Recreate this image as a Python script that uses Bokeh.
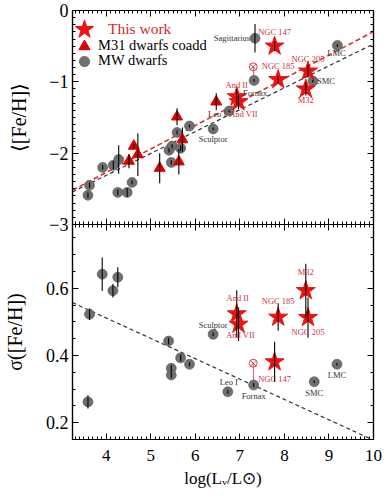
from bokeh.plotting import figure
from bokeh.models import (Range1d, LinearAxis, SingleIntervalTicker, Legend, LegendItem,
                          LabelSet, ColumnDataSource, CustomLabelingPolicy)
from bokeh.layouts import column
from bokeh.embed import file_html
from bokeh.resources import INLINE

FONT = "Liberation Serif"
STAR_RED = "#ee1111"
TXT_RED = "#d2303c"
GREY = "#6f6f6f"

# ---------------- data ----------------
x_limits = (3.243, 10.0)
feh_limits = (-3.0, 0.0)
sigma_limits = (0.15, 0.79)

# Milky Way dwarfs, <[Fe/H]> panel
mw_names = ["", "", "", "", "", "", "", "", "", "", "", "", "", "",
            "Sculptor", "Leo I", "Fornax", "Sagittarius", "SMC", "LMC"]
mw_logL = [3.59, 3.625, 3.92, 4.16, 4.28, 4.26, 4.47, 4.58, 5.41, 5.48,
           5.46, 5.67, 5.59, 5.87, 6.40, 6.76, 7.32, 7.34, 8.64, 9.19]
mw_feh = [-2.59, -2.45, -2.20, -2.17, -2.09, -2.55, -2.55, -2.41, -1.96, -1.90,
          -2.13, -1.93, -1.71, -1.62, -1.66, -1.41, -0.98, -0.39, -0.99, -0.49]
mw_feh_err = [0.04, 0.04, 0.03, 0.06, 0.20, 0.04, 0.06, 0.03, 0.03, 0.03,
              0.03, 0.04, 0.03, 0.02, 0.02, 0.02, 0.02, 0.20, 0.02, 0.02]

# Milky Way dwarfs, sigma panel
mw_sig_names = ["", "", "", "", "", "", "", "", "", "",
                "Sculptor", "Leo I", "Fornax", "SMC", "LMC"]
mw_sig_logL = [3.59, 3.625, 3.91, 4.15, 4.26, 5.40, 5.46, 5.46, 5.67, 5.87,
               6.40, 6.73, 7.31, 8.67, 9.18]
mw_sigma = [0.262, 0.523, 0.642, 0.593, 0.633, 0.443, 0.362, 0.342, 0.393, 0.374,
            0.463, 0.292, 0.312, 0.322, 0.374]
mw_sigma_err = [0.02, 0.017, 0.05, 0.02, 0.03, 0.01, 0.01, 0.01, 0.01, 0.006,
                0.006, 0.006, 0.006, 0.004, 0.004]

# M31 dwarfs, this work
m31_names = ["And II", "And VII", "NGC 147", "NGC 185", "NGC 205", "M32"]
m31_logL = [6.93, 6.97, 7.78, 7.86, 8.53, 8.48]
m31_feh = [-1.21, -1.28, -0.50, -0.97, -0.85, -1.10]
m31_feh_err = [0.11, 0.10, 0.07, 0.05, 0.09, 0.09]
m31_sigma = [0.524, 0.493, 0.381, 0.514, 0.513, 0.593]
m31_sigma_err = [0.07, 0.05, 0.06, 0.04, 0.06, 0.08]

# M31 dwarfs coadd
coadd_logL = [4.51, 4.62, 4.71, 5.20, 5.59, 5.63, 5.71, 6.47]
coadd_feh = [-2.11, -1.90, -2.02, -2.21, -1.49, -2.12, -1.81, -1.28]
coadd_feh_err = [0.10, 0.03, 0.30, 0.21, 0.12, 0.18, 0.17, 0.12]

# alternative measurement (open circle) linked to Fornax
alt_logL = [7.30]
alt_feh = [-0.79]
alt_sigma = [0.377]

# linear fits: [slope, intercept]
fit_coadd = [0.329, -3.586]
fit_mw = [0.307, -3.539]
fit_sigma = [-0.0606, 0.754]

feh_tick_values = [0, -1, -2, -3]
feh_tick_labels = ["0", "\u22121", "\u22122", "\u22123"]

# label offsets (pixels, +y up)
top_offsets = {"Sagittarius": (-23, 0), "NGC 147": (0, 14), "NGC 185": (0, 14),
               "NGC 205": (0, 12), "SMC": (13, 0), "LMC": (-1, -8), "M32": (0, -11),
               "And II": (0, 12), "Fornax": (1, -13), "And VII": (5, -12),
               "Leo I": (-12, -3), "Sculptor": (0, -10)}
bot_offsets = {"And II": (1, 16), "And VII": (2, -11), "NGC 185": (0, 16),
               "M32": (0, 19), "NGC 205": (0, -14), "Sculptor": (0, 9),
               "NGC 147": (0, -17), "Leo I": (1, 10), "Fornax": (0, -11),
               "SMC": (0, -11), "LMC": (0, -11)}

FRAME_W = 301
BORDER_L = 68
BORDER_R = 17
PAD = 20        # fixed border for the tick-only edges (larger than their axes)
TOP_Y = 10      # page y of the top frame


def hidden_policy():
    return CustomLabelingPolicy(code="""
        const ids = [...indices];
        for (const i of ids) indices.unset(i);
        return indices;
    """)


def style_axis(ax, labels=True, size="18px", standoff=4):
    ax.major_tick_in = 6
    ax.major_tick_out = 0
    ax.minor_tick_in = 3
    ax.minor_tick_out = 0
    ax.major_tick_line_color = "black"
    ax.minor_tick_line_color = "black"
    ax.axis_line_color = "black"
    ax.axis_line_width = 1.2
    ax.major_label_text_font = FONT
    ax.axis_label_text_font = FONT
    ax.axis_label_text_font_style = "normal"
    ax.axis_label_text_color = "black"
    ax.major_label_text_color = "black"
    if labels:
        ax.major_label_text_font_size = size
        ax.major_label_standoff = standoff
    else:
        ax.major_label_text_font_size = "0px"
        ax.major_label_text_alpha = 0
        ax.major_label_standoff = 0
        ax.major_label_policy = hidden_policy()
        ax.axis_label = None


def make_fig(ylim, yticker, frame_h, mb_top, mb_bottom, **kw):
    p = figure(frame_width=FRAME_W, frame_height=frame_h,
               x_range=Range1d(*x_limits), y_range=Range1d(*ylim),
               output_backend="svg", toolbar_location=None,
               min_border_left=BORDER_L, min_border_right=BORDER_R,
               min_border_top=mb_top, min_border_bottom=mb_bottom, **kw)
    p.grid.visible = False
    p.outline_line_color = "black"
    p.outline_line_width = 1.2
    p.background_fill_color = "white"
    p.border_fill_color = None
    xt = SingleIntervalTicker(interval=1, num_minor_ticks=10)
    p.xaxis.ticker = xt
    p.yaxis.ticker = yticker
    p.add_layout(LinearAxis(ticker=xt), "above")
    p.add_layout(LinearAxis(ticker=yticker), "right")
    return p


def fit_line(p, fit, color, width, dash):
    xs = list(x_limits)
    ys = [fit[0] * xv + fit[1] for xv in xs]
    p.line(xs, ys, line_color=color, line_width=width, line_dash=dash)


def errbars(p, xs, ys, es, color="black", width=1.1):
    src = ColumnDataSource(dict(x=xs, y0=[y - e for y, e in zip(ys, es)],
                                y1=[y + e for y, e in zip(ys, es)]))
    p.segment(x0="x", y0="y0", x1="x", y1="y1", source=src,
              line_color=color, line_width=width)


def name_labels(p, names, xs, ys, offsets, color):
    d = dict(x=[], y=[], t=[], dx=[], dy=[])
    for n, xv, yv in zip(names, xs, ys):
        if n and n in offsets:
            d["x"].append(xv)
            d["y"].append(yv)
            d["t"].append(n)
            d["dx"].append(offsets[n][0])
            d["dy"].append(offsets[n][1])
    ls = LabelSet(x="x", y="y", text="t", x_offset="dx", y_offset="dy",
                  source=ColumnDataSource(d), text_font=FONT, text_font_size="8.5px",
                  text_color=color, text_align="center", text_baseline="middle")
    p.add_layout(ls)


def legend_entry(p, r, label, color, box, cx, cy, standoff, frame_h, fs):
    leg = Legend(items=[LegendItem(label=label, renderers=[r])],
                 location=(cx - box / 2, frame_h - (cy + box / 2)),
                 glyph_width=box, glyph_height=box, label_height=box,
                 label_standoff=standoff, padding=0, margin=0, spacing=0,
                 border_line_alpha=0, background_fill_alpha=0,
                 label_text_font=FONT, label_text_font_size=fs,
                 label_text_color=color)
    p.add_layout(leg)


# ---------------- top panel ----------------
TOP_H = 214
top = make_fig(feh_limits, SingleIntervalTicker(interval=1, num_minor_ticks=10), TOP_H, PAD, PAD)
for ax in top.yaxis:
    ax.major_label_overrides = dict(zip(feh_tick_values, feh_tick_labels))
style_axis(top.below[0], labels=False)
style_axis(top.above[0], labels=False)
style_axis(top.left[0], labels=True, size="18px", standoff=4)
style_axis(top.right[0], labels=False)
top.left[0].axis_label = "\u27e8[Fe/H]\u27e9"
top.left[0].axis_label_text_font_size = "20px"
top.left[0].axis_label_standoff = 16

fit_line(top, fit_mw, "#333333", 1.2, "4 3")
fit_line(top, fit_coadd, "#e03030", 1.6, "5 3")

top.segment(x0=alt_logL, y0=alt_feh, x1=[mw_logL[mw_names.index("Fornax")]],
            y1=[mw_feh[mw_names.index("Fornax")]], line_color=TXT_RED, line_width=0.8)
r_mw = top.scatter(mw_logL, mw_feh, marker="circle", size=10, fill_color=GREY,
                   line_color="#555555", line_width=0.6)
r_tri = top.scatter(coadd_logL, coadd_feh, marker="triangle", size=11,
                    fill_color="#dd0000", line_color="#dd0000")
r_star = top.scatter(m31_logL, m31_feh, marker="star", size=20,
                     fill_color=STAR_RED, line_color=STAR_RED)
top.scatter(alt_logL, alt_feh, marker="circle_x", size=8, fill_color=None,
            line_color=TXT_RED, line_width=0.9)
errbars(top, mw_logL, mw_feh, mw_feh_err)
errbars(top, coadd_logL, coadd_feh, coadd_feh_err)
errbars(top, m31_logL, m31_feh, m31_feh_err)

name_labels(top, mw_names, mw_logL, mw_feh, top_offsets, "#333333")
name_labels(top, m31_names, m31_logL, m31_feh, top_offsets, TXT_RED)

legend_entry(top, r_star, "This work", "#d42a2a", 48, 12, 19, -10, TOP_H, "15.5px")
legend_entry(top, r_tri, "M31 dwarfs coadd", "black", 28, 12, 35.5, 0, TOP_H, "14.5px")
legend_entry(top, r_mw, "MW dwarfs", "black", 26, 12, 50.5, 1, TOP_H, "14.5px")

# ---------------- bottom panel ----------------
BOT_H = 215
bot = make_fig(sigma_limits, SingleIntervalTicker(interval=0.2, num_minor_ticks=4), BOT_H, PAD, 53,
               styles={"margin-top": f"-{2 * PAD}px"})
style_axis(bot.below[0], labels=True, size="17px", standoff=10)
bot.below[0].axis_label = "log(L\u1d65/L\u2299)"
bot.below[0].axis_label_text_font_size = "17px"
bot.below[0].axis_label_standoff = 5
style_axis(bot.above[0], labels=False)
style_axis(bot.left[0], labels=True, size="18px", standoff=4)
style_axis(bot.right[0], labels=False)
bot.left[0].axis_label = "\u03c3([Fe/H])"
bot.left[0].axis_label_text_font_size = "20px"
bot.left[0].axis_label_standoff = 17

fit_line(bot, fit_sigma, "#333333", 1.2, "4 3")
fornax_i = mw_sig_names.index("Fornax")
bot.segment(x0=alt_logL, y0=alt_sigma, x1=[mw_sig_logL[fornax_i]],
            y1=[mw_sigma[fornax_i]], line_color=TXT_RED, line_width=0.8)
bot.scatter(mw_sig_logL, mw_sigma, marker="circle", size=10, fill_color=GREY,
            line_color="#555555", line_width=0.6)
bot.scatter(m31_logL, m31_sigma, marker="star", size=20,
            fill_color=STAR_RED, line_color=STAR_RED)
bot.scatter(alt_logL, alt_sigma, marker="circle_x", size=8, fill_color=None,
            line_color=TXT_RED, line_width=0.9)
errbars(bot, mw_sig_logL, mw_sigma, mw_sigma_err)
errbars(bot, m31_logL, m31_sigma, m31_sigma_err)

name_labels(bot, mw_sig_names, mw_sig_logL, mw_sigma, bot_offsets, "#333333")
name_labels(bot, m31_names, m31_logL, m31_sigma, bot_offsets, TXT_RED)

layout = column(top, bot, spacing=0, styles={"margin-top": f"-{PAD - TOP_Y}px"})
open("out.html", "w").write(file_html(layout, INLINE))
